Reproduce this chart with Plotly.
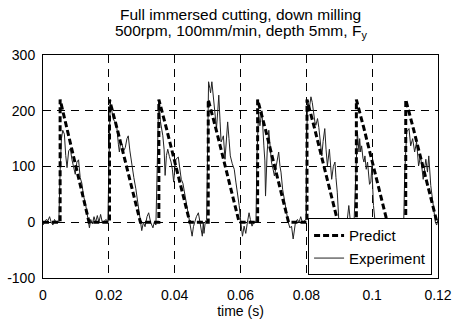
import plotly.graph_objects as go

# ---------------- data ----------------
predict_t = [0.0, 0.0052, 0.0052, 0.0074, 0.0096, 0.0118, 0.0140,
             0.0202, 0.0202, 0.0226, 0.0249, 0.0273, 0.0296,
             0.0352, 0.0352, 0.0376, 0.0399, 0.0423, 0.0446,
             0.0502, 0.0502, 0.0526, 0.0549, 0.0573, 0.0596,
             0.0652, 0.0652, 0.0676, 0.0699, 0.0723, 0.0746,
             0.0802, 0.0802, 0.0826, 0.0849, 0.0873, 0.0896,
             0.0952, 0.0952, 0.0976, 0.0999, 0.1023, 0.1046,
             0.1102, 0.1102, 0.1126, 0.1149, 0.1173, 0.1196, 0.1200]
predict_y = [0, 0, 220, 166, 112, 56, 0,
             0, 220, 166, 112, 56, 0,
             0, 220, 166, 112, 56, 0,
             0, 220, 166, 112, 56, 0,
             0, 220, 166, 112, 56, 0,
             0, 220, 166, 112, 56, 0,
             0, 220, 166, 112, 56, 0,
             0, 220, 166, 112, 56, 2, 0]

exp_t = [0.0000, 0.0005, 0.0010, 0.0015, 0.0020, 0.0025, 0.0030, 0.0035, 0.0040, 0.0045,
         0.0048, 0.0052, 0.0056, 0.0060, 0.0065, 0.0069, 0.0073, 0.0078, 0.0083, 0.0088,
         0.0093, 0.0098, 0.0103, 0.0108, 0.0113, 0.0118, 0.0123, 0.0130, 0.0136, 0.0141,
         0.0145, 0.0150, 0.0155, 0.0160, 0.0165, 0.0170, 0.0175, 0.0180, 0.0186, 0.0192,
         0.0197, 0.0201, 0.0204, 0.0209, 0.0214, 0.0219, 0.0224, 0.0229, 0.0232, 0.0236,
         0.0240, 0.0245, 0.0250, 0.0255, 0.0259, 0.0264, 0.0270, 0.0276, 0.0282, 0.0288,
         0.0292, 0.0296, 0.0300, 0.0305, 0.0310, 0.0316, 0.0321, 0.0327, 0.0334, 0.0338,
         0.0343, 0.0347, 0.0351, 0.0357, 0.0364, 0.0368, 0.0371, 0.0375, 0.0379, 0.0384,
         0.0389, 0.0393, 0.0397, 0.0401, 0.0404, 0.0411, 0.0416, 0.0420, 0.0425, 0.0430,
         0.0435, 0.0440, 0.0444, 0.0448, 0.0453, 0.0457, 0.0461, 0.0466, 0.0472, 0.0476,
         0.0480, 0.0484, 0.0487, 0.0489, 0.0493, 0.0497, 0.0500, 0.0503, 0.0507, 0.0509,
         0.0513, 0.0517, 0.0521, 0.0525, 0.0527, 0.0531, 0.0534, 0.0538, 0.0541, 0.0545,
         0.0548, 0.0553, 0.0557, 0.0561, 0.0565, 0.0569, 0.0575, 0.0581, 0.0586, 0.0591,
         0.0596, 0.0601, 0.0606, 0.0611, 0.0616, 0.0621, 0.0626, 0.0630, 0.0635, 0.0640,
         0.0647, 0.0650, 0.0655, 0.0659, 0.0662, 0.0665, 0.0671, 0.0674, 0.0676, 0.0681,
         0.0686, 0.0690, 0.0694, 0.0699, 0.0703, 0.0708, 0.0712, 0.0716, 0.0720, 0.0723,
         0.0728, 0.0733, 0.0738, 0.0745, 0.0750, 0.0755, 0.0760, 0.0763, 0.0767, 0.0773,
         0.0778, 0.0783, 0.0788, 0.0793, 0.0799, 0.0801, 0.0804, 0.0809, 0.0814, 0.0818,
         0.0822, 0.0826, 0.0829, 0.0834, 0.0838, 0.0842, 0.0847, 0.0851, 0.0856, 0.0860,
         0.0864, 0.0870, 0.0875, 0.0877, 0.0882, 0.0887, 0.0890, 0.0894, 0.0899, 0.0904,
         0.0909, 0.0914, 0.0919, 0.0924, 0.0929, 0.0934, 0.0940, 0.0945, 0.0950, 0.0955,
         0.0960, 0.0962, 0.0965, 0.0968, 0.0972, 0.0975, 0.0978, 0.0982, 0.0986, 0.0989,
         0.0992, 0.0996, 0.0999, 0.1004, 0.1009, 0.1014, 0.1020, 0.1025, 0.1030, 0.1035,
         0.1040, 0.1045, 0.1050, 0.1056, 0.1062, 0.1068, 0.1074, 0.1080, 0.1086, 0.1091,
         0.1096, 0.1099, 0.1105, 0.1112, 0.1117, 0.1123, 0.1129, 0.1135, 0.1141, 0.1147,
         0.1155, 0.1163, 0.1168, 0.1172, 0.1178, 0.1185, 0.1192, 0.1196, 0.1200]
exp_y = [-5, 0, 5, 3, 10, 0, -5, 5, 0, 2,
         0, 90, 150, 165, 158, 120, 98, 128, 132, 112,
         100, 86, 108, 112, 80, 70, 48, 30, 8, -10,
         5, -3, 10, 0, 12, 0, 14, 0, 2, 5,
         0, 150, 216, 200, 184, 180, 172, 140, 126, 144,
         140, 128, 134, 150, 155, 128, 100, 80, 60, 35,
         17, 5, -15, 0, -8, 10, 17, 0, -10, 0,
         -5, 100, 214, 180, 155, 130, 84, 120, 131, 118,
         108, 95, 72, 100, 113, 117, 98, 77, 70, 54,
         40, 23, 5, -7, -25, -8, 0, 10, 17, 5,
         -7, -25, 0, -20, 0, 5, 130, 252, 240, 232,
         252, 230, 204, 180, 168, 200, 228, 180, 144, 150,
         155, 113, 150, 180, 150, 119, 105, 95, 72, 54,
         30, 0, -25, -7, -20, 0, 17, 5, -7, 0,
         2, 120, 197, 173, 190, 200, 137, 110, 47, 126,
         165, 135, 108, 95, 83, 99, 115, 126, 100, 90,
         59, 40, 29, 0, -10, -7, -30, -15, 0, 5,
         0, 10, 0, 2, 5, 150, 219, 204, 225, 215,
         192, 180, 174, 186, 170, 150, 119, 145, 168, 130,
         101, 131, 95, 77, 100, 108, 80, 54, 0, -7,
         0, -3, 0, 2, 30, 0, -3, 0, 80, 162,
         126, 150, 126, 137, 115, 108, 119, 95, 108, 83,
         68, 72, 101, 30, 0, -2, 0, -4, 0, 3,
         -3, 2, 0, 5, -2, 3, 0, -3, 2, 0,
         5, 90, 162, 168, 137, 150, 126, 144, 101, 119,
         77, 113, 90, 119, 66, 30, 0, -5, 5]

x_ticks = [0, 0.02, 0.04, 0.06, 0.08, 0.1, 0.12]
x_labels = ["0", "0.02", "0.04", "0.06", "0.08", "0.1", "0.12"]
y_ticks = [-100, 0, 100, 200, 300]
y_labels = ["-100", "0", "100", "200", "300"]

title_line1 = "Full immersed cutting, down milling"
title_line2 = "500rpm, 100mm/min, depth 5mm, F<sub>y</sub>"

FONT = "Liberation Sans, Arial, sans-serif"

fig = go.Figure()
fig.add_trace(go.Scatter(x=exp_t, y=exp_y, mode="lines", name="Experiment",
                         line=dict(color="#222222", width=1), legendrank=2))
fig.add_trace(go.Scatter(x=predict_t, y=predict_y, mode="lines", name="Predict",
                         line=dict(color="black", width=3, dash="6px,3px"), legendrank=1))

axis_common = dict(showline=True, linecolor="black", linewidth=1, mirror=True,
                   showgrid=True, gridcolor="black", gridwidth=1, griddash="8px,6px",
                   zeroline=False, ticks="", automargin=False,
                   tickfont=dict(size=14, color="black", family=FONT))

fig.update_layout(
    width=455, height=322,
    margin=dict(l=43, r=17, t=55, b=44),
    paper_bgcolor="white", plot_bgcolor="white",
    font=dict(family=FONT, size=14, color="black"),
    xaxis=dict(range=[0, 0.12], tickvals=x_ticks, ticktext=x_labels, ticklabelstandoff=4,
               title=dict(text="time (s)", standoff=2, font=dict(size=14)), **axis_common),
    yaxis=dict(range=[-100, 300], tickvals=y_ticks, ticktext=y_labels, ticklabelstandoff=4,
               **axis_common),
    legend=dict(x=0.985, y=0.012, xanchor="right", yanchor="bottom",
                bordercolor="black", borderwidth=1, bgcolor="white",
                font=dict(size=15, family=FONT, color="black"),
                tracegroupgap=0, itemwidth=30),
    showlegend=True,
    annotations=[
        dict(text=title_line1, x=0.5, xref="paper", xanchor="center",
             y=1.182, yref="paper", yanchor="middle", showarrow=False,
             font=dict(size=15.5, family=FONT, color="black")),
        dict(text=title_line2, x=0.5, xref="paper", xanchor="center",
             y=1.105, yref="paper", yanchor="middle", showarrow=False,
             font=dict(size=15.5, family=FONT, color="black")),
    ],
)

fig.write_html("out.html")
